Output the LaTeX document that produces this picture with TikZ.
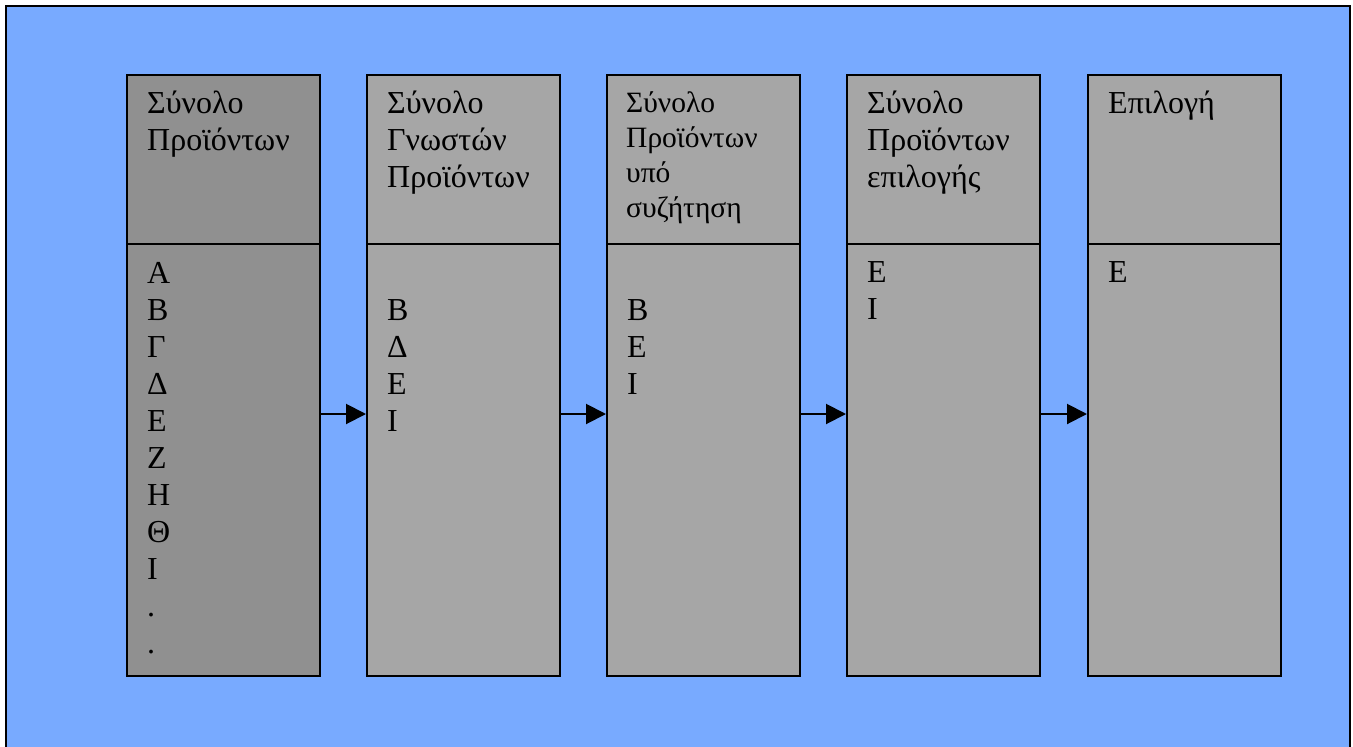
\documentclass[tikz,border=0pt]{standalone}
\usepackage{fontspec}
\setmainfont{Liberation Serif}
\usetikzlibrary{arrows.meta}

\definecolor{panelblue}{RGB}{120,170,255}
\definecolor{darkcell}{RGB}{144,144,144}
\definecolor{lightcell}{RGB}{166,166,166}

% left-aligned stack of lines whose baseline is that of the first line
\newcommand\linestack[3]{\vtop{\fontsize{#1}{#2}\selectfont\halign{##\hfil\cr#3\crcr}}}

\tikzset{
  cell/.style={draw=black, line width=2pt, inner sep=0pt, anchor=north west,
               minimum width=193pt},
  headcell/.style={cell, minimum height=169pt},
  bodycell/.style={cell, minimum height=432pt},
  label/.style={anchor=base west, inner sep=0pt},
  flow/.style={draw=black, line width=2pt,
               -{Triangle[length=20pt,width=20pt]}}
}

\begin{document}
\begin{tikzpicture}[x=1pt,y=-1pt]
  \useasboundingbox (0,0) rectangle (1353,747);
  \fill[white] (0,0) rectangle (1353,747);

  % framed blue panel (its lower edge runs off the page)
  \fill[panelblue] (6,6) rectangle (1350,770);
  \draw[line width=2pt] (6,770) -- (6,6) -- (1350,6) -- (1350,770);

  % five columns: heading cell over list cell
  \node[headcell, fill=darkcell]  (h1) at (126,74) {};
  \node[bodycell, fill=darkcell]  (b1) at (126,243) {};
  \node[headcell, fill=lightcell] (h2) at (366,74) {};
  \node[bodycell, fill=lightcell] (b2) at (366,243) {};
  \node[headcell, fill=lightcell] (h3) at (606,74) {};
  \node[bodycell, fill=lightcell] (b3) at (606,243) {};
  \node[headcell, fill=lightcell] (h4) at (846,74) {};
  \node[bodycell, fill=lightcell] (b4) at (846,243) {};
  \node[headcell, fill=lightcell] (h5) at (1087,74) {};
  \node[bodycell, fill=lightcell] (b5) at (1087,243) {};

  % headings
  \node[label] (t1) at (147,113) {\linestack{32}{37}{Σύνολο\cr Προϊόντων}};
  \node[label] (t2) at (387,113) {\linestack{32}{37}{Σύνολο\cr Γνωστών\cr Προϊόντων}};
  \node[label] (t3) at (626,112) {\linestack{29.5}{35}{Σύνολο\cr Προϊόντων\cr υπό\cr συζήτηση}};
  \node[label] (t4) at (867,113) {\linestack{32}{37}{Σύνολο\cr Προϊόντων\cr επιλογής}};
  \node[label] (t5) at (1108,113) {\linestack{32}{37}{Επιλογή}};

  % lists
  \node[label] (l1) at (147,283) {\linestack{32}{37}{Α\cr Β\cr Γ\cr Δ\cr Ε\cr Ζ\cr Η\cr Θ\cr Ι\cr .\cr .}};
  \node[label] (l2) at (387,320) {\linestack{32}{37}{Β\cr Δ\cr Ε\cr Ι}};
  \node[label] (l3) at (627,320) {\linestack{32}{37}{Β\cr Ε\cr Ι}};
  \node[label] (l4) at (867,282) {\linestack{32}{37}{Ε\cr Ι}};
  \node[label] (l5) at (1108,282) {\linestack{32}{37}{Ε}};

  % arrows between the list cells
  \draw[flow] ([yshift=46pt]b1.east) -- ([yshift=46pt]b2.west);
  \draw[flow] ([yshift=46pt]b2.east) -- ([yshift=46pt]b3.west);
  \draw[flow] ([yshift=46pt]b3.east) -- ([yshift=46pt]b4.west);
  \draw[flow] ([yshift=46pt]b4.east) -- ([yshift=46pt]b5.west);
\end{tikzpicture}
\end{document}
